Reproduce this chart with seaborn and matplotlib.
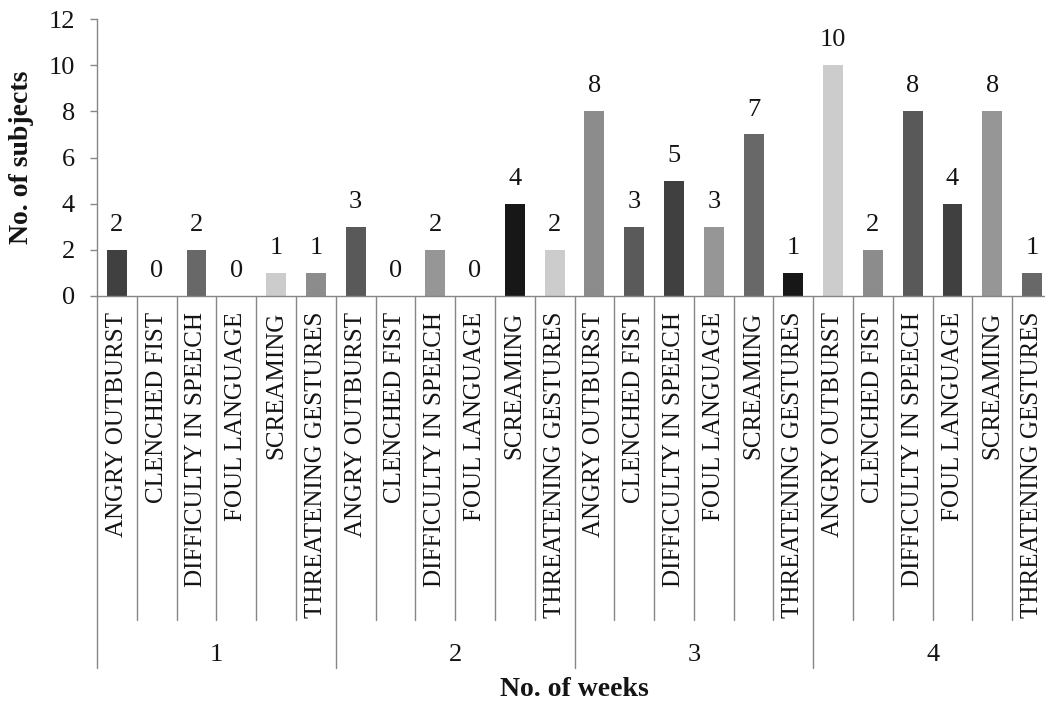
import matplotlib
matplotlib.use("Agg")
import matplotlib.pyplot as plt
import seaborn as sns
import pandas as pd

# Weekly counts of subjects showing each aggressive behaviour
weeks = ["1", "2", "3", "4"]
behaviours = ["ANGRY OUTBURST", "CLENCHED FIST", "DIFFICULTY IN SPEECH",
              "FOUL LANGUAGE", "SCREAMING", "THREATENING GESTURES"]
week1 = [2, 0, 2, 0, 1, 1]
week2 = [3, 0, 2, 0, 4, 2]
week3 = [8, 3, 5, 3, 7, 1]
week4 = [10, 2, 8, 4, 8, 1]

# Grey fill of each bar, in plotting order
bar_colors = [
    "#404040", "#595959", "#686868", "#969696", "#cccccc", "#8c8c8c",
    "#595959", "#8c8c8c", "#969696", "#404040", "#171717", "#cccccc",
    "#8c8c8c", "#5a5a5a", "#404040", "#969696", "#686868", "#171717",
    "#cccccc", "#8c8c8c", "#595959", "#404040", "#969696", "#686868",
]

rows = []
for w, vals in zip(weeks, [week1, week2, week3, week4]):
    for b, v in zip(behaviours, vals):
        rows.append({"week": w, "behaviour": b, "count": v, "slot": f"{w}|{b}"})
df = pd.DataFrame(rows)
slots = list(df["slot"])

sns.set_theme(style="white")
plt.rcParams["font.family"] = ["Liberation Serif", "DejaVu Serif"]
axis_grey = "#868686"
ink = "#141414"

fig = plt.figure(figsize=(10.45, 7.06), dpi=100)
W, H = 1045, 706
left_px, right_px, top_px, base_px = 97, 1052, 19, 296
ax = fig.add_axes([left_px / W, (H - base_px) / H,
                   (right_px - left_px) / W, (base_px - top_px) / H])

sns.barplot(data=df, x="slot", y="count", hue="slot", order=slots,
            hue_order=slots, palette=dict(zip(slots, bar_colors)),
            width=0.5, linewidth=0, legend=False, ax=ax)

for cont in ax.containers:
    ax.bar_label(cont, fmt="%d", padding=10, fontsize=19, color=ink)

ax.set_ylim(0, 12)
ax.set_yticks(range(0, 13, 2))
ax.set_xlim(-0.5, len(slots) - 0.5)
ax.set_xticks([])
ax.set_xlabel("")
ax.set_ylabel("")
ax.tick_params(axis="y", length=5, width=1, color=axis_grey, pad=11,
               labelsize=19, labelcolor=ink, left=True)
for side in ["top", "right"]:
    ax.spines[side].set_visible(False)
for side in ["left", "bottom"]:
    ax.spines[side].set_color(axis_grey)
    ax.spines[side].set_linewidth(1)

# Two-level category axis below the bars
axh = base_px - top_px
def frac(px_below):
    return -px_below / axh

tr = ax.get_xaxis_transform()
n_beh = len(behaviours)
for i in range(len(slots) + 1):
    x = i - 0.5
    depth = 372 if i % n_beh == 0 else 324
    ax.plot([x, x], [0, frac(depth)], transform=tr, color=axis_grey,
            lw=1, clip_on=False)

for i, s in enumerate(slots):
    ax.text(i, frac(16), s.split("|")[1], transform=tr, rotation=90,
            ha="center", va="top", fontsize=18, color=ink)

for g, w in enumerate(weeks):
    ax.text(g * n_beh + (n_beh - 1) / 2, frac(359), w, transform=tr,
            ha="center", va="center", fontsize=19, color=ink)

fig.text((left_px + right_px) / 2 / W, (H - 689) / H, "No. of weeks",
         ha="center", va="center", fontsize=20, fontweight="bold",
         color=ink)
fig.text(22 / W, (H - (top_px + base_px) / 2) / H, "No. of subjects",
         rotation=90, ha="center", va="center", fontsize=20,
         fontweight="bold", color=ink)

fig.savefig("out.png", dpi=100)
